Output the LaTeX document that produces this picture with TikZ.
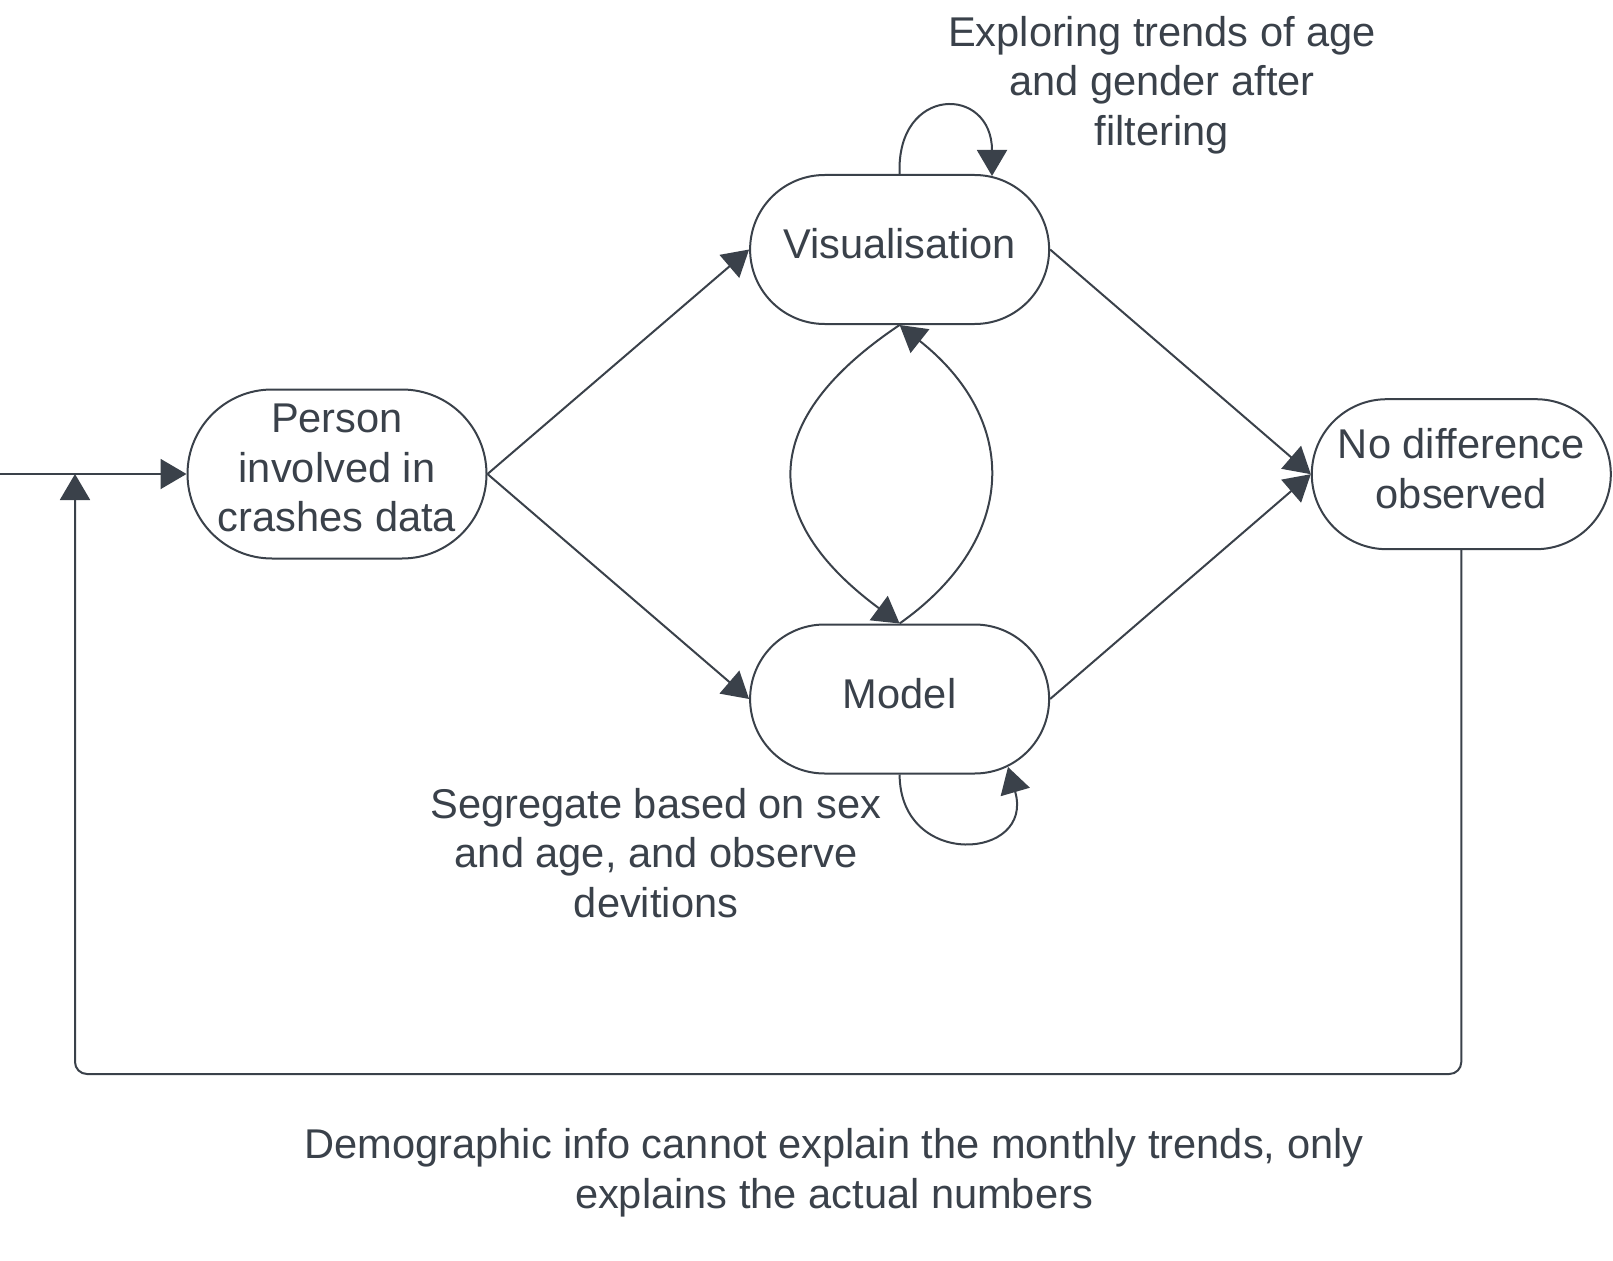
\documentclass[tikz,border=0pt]{standalone}
\usepackage{fontspec}
\setmainfont{Liberation Sans}
\usetikzlibrary{arrows.meta}
\definecolor{ink}{RGB}{58,65,74}
\begin{document}
\begin{tikzpicture}[x=1pt,y=-1pt,color=ink,
  stadium/.style={draw=ink, line width=2pt, rounded corners=74.5pt, minimum width=299pt, minimum height=149pt, align=center, inner sep=0pt, font=\fontsize{41.6}{49.7}\selectfont},
  lbl/.style={align=center, inner sep=0pt, font=\fontsize{41.6}{49.7}\selectfont},
  conn/.style={draw=ink, line width=2pt, -{Triangle[length=26pt,width=30pt]}},
  txt/.style={align=center, inner sep=0pt, font=\fontsize{41.6}{49.7}\selectfont},
]
\path[use as bounding box] (0,0) rectangle (1613,1260);

\node[stadium, minimum height=169pt, rounded corners=84.5pt] (P) at (337,474) {};
\node[stadium] (V) at (899.6,249.5) {};
\node[stadium] (M) at (899.6,699) {};
\node[stadium, minimum height=150pt, rounded corners=75pt] (N) at (1461.3,474.2) {};
\node[txt] (Pt) at (337,468) {Person\\involved in\\crashes data};
\node[txt] (Vt) at (899.6,244) {Visualisation};
\node[txt] (Mt) at (899.6,693.5) {Model};
\node[txt] (Nt) at (1461.3,468.5) {No difference\\observed};

\node[lbl] (t1) at (1162,85) {Exploring trends of age\\and gender after\\filtering};
\node[lbl] (t2) at (656,853) {Segregate based on sex\\and age, and observe\\devitions};
\node[lbl] (t3) at (834,1173) {Demographic info cannot explain the monthly trends, only\\explains the actual numbers};

\coordinate (in) at (0,474);
\draw[conn] (in) -- (P.west);
\draw[conn] (P.east) -- (V.west);
\draw[conn] (P.east) -- (M.west);
\draw[conn] (V.east) -- (N.west);
\draw[conn] (M.east) -- (N.west);
\draw[conn] (V.south) .. controls +(-142,95) and +(-142,-105) .. (M.north);
\draw[conn] (M.north) .. controls +(120,-85) and +(120,95) .. (V.south);

\coordinate (vl) at (992,176);
\draw[conn] (V.north) .. controls (896,85) and (992,85) .. (vl);
\coordinate (ml) at (1008,767);
\draw[conn] (M.south) .. controls (900,870) and (1035,860) .. (ml);

\coordinate (fbend) at (75,474);
\coordinate (fbc) at (75,1074);
\draw[conn, rounded corners=12pt] (N.south) |- (fbc) -- (fbend);
\end{tikzpicture}
\end{document}
